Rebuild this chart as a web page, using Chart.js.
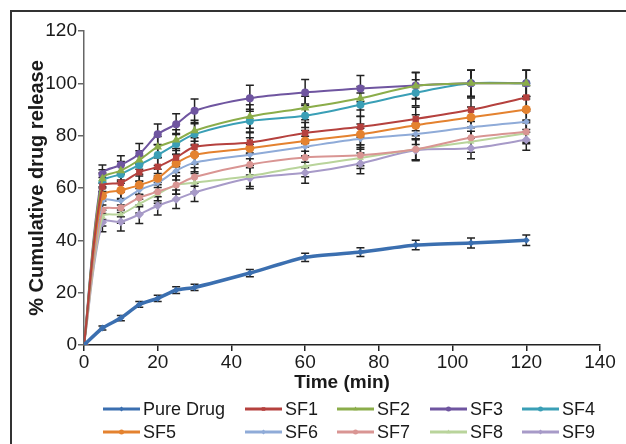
<!DOCTYPE html>
<html>
<head>
<meta charset="utf-8">
<script src="https://cdn.jsdelivr.net/npm/chart.js@4.4.0/dist/chart.umd.min.js"></script>
<style>
  html, body { margin: 0; padding: 0; background: #fff; overflow: hidden; }
  #wrap { position: relative; width: 626px; height: 444px; }
  #frame { position: absolute; left: 10px; top: 10px; width: 700px; height: 500px;
           border-top: 2px solid #333; border-left: 2px solid #333; }
  canvas { position: absolute; left: 0; top: 0; }
</style>
</head>
<body>
<div id="wrap">
  <div id="frame"></div>
  <canvas id="releaseChart" width="626" height="444"></canvas>
</div>
<script>
// time points (min)
const times = [0, 5, 10, 15, 20, 25, 30, 45, 60, 75, 90, 105, 120];

// % cumulative release per formulation
const pureDrug = [0, 6.5, 10.3, 15.5, 17.8, 21, 22, 27.5, 33.5, 35.5, 38.2, 39, 40];
const sf1 = [0, 60.5, 62, 66, 68.1, 71.6, 75.7, 77.4, 81, 83.4, 86.4, 89.9, 94.6];
const sf2 = [0, 63.5, 66.6, 70.7, 75.7, 78.3, 81.9, 87.3, 90.6, 94.3, 99, 100, 100];
const sf3 = [0, 65.3, 68.8, 73, 80.5, 84.4, 89.5, 94.3, 96.5, 98, 99.2, 100, 100];
const sf4 = [0, 62.2, 65.3, 68.8, 72.6, 76.8, 80.6, 85.6, 87.6, 91.8, 96.4, 100, 100];
const sf5 = [0, 57, 59.1, 61.1, 63.7, 69.4, 72.7, 75.2, 78, 80.5, 84, 87, 90];
const sf6 = [0, 55, 55.1, 59.2, 62, 66.6, 69.7, 72.7, 75.8, 78.8, 80.6, 83.2, 85.3];
const sf7 = [0, 51.5, 52.5, 56.3, 58.6, 61.1, 64.2, 69, 71.7, 72.5, 74.8, 79.2, 81.5];
const sf8 = [0, 49, 50, 53.9, 57.7, 61.1, 62, 64.6, 68.3, 71.5, 74.8, 77.7, 80.9];
const sf9 = [0, 46.8, 47.1, 49.9, 53.2, 55.7, 58.3, 63.7, 65.8, 69.4, 74.4, 75.2, 78.4];

// standard deviations (error bars)
const pureErr = [0, 0.8, 1, 1.1, 1.2, 1.3, 1.2, 1.4, 1.6, 1.7, 1.8, 1.9, 2];
const sf1Err = [0, 3.5, 3.5, 3.5, 3.5, 3.5, 3.5, 4, 4, 4, 4.5, 4.5, 4.5];
const sf2Err = [0, 3.5, 3.5, 3.5, 4, 4, 4, 4.5, 4.5, 4.5, 5, 5, 5];
const sf3Err = [0, 3.5, 3.5, 4, 4, 4, 4.5, 5, 5, 5, 5, 5, 5];
const sf4Err = [0, 3.5, 3.5, 3.5, 4, 4, 4, 4.5, 4.5, 4.5, 5, 5, 5];
const sf5Err = [0, 3.5, 3.5, 3.5, 3.5, 3.5, 3.5, 4, 4, 4, 4, 4, 4];
const sf6Err = [0, 3.5, 3.5, 3.5, 3.5, 3.5, 3.5, 4, 4, 4, 4, 4, 4];
const sf7Err = [0, 3.5, 3.5, 3.5, 3.5, 3.5, 3.5, 4, 4, 4, 4, 4, 4];
const sf8Err = [0, 3.5, 3.5, 3.5, 3.5, 3.5, 3.5, 4, 4, 4, 4, 4, 4];
const sf9Err = [0, 3.5, 3.5, 3.5, 3.5, 3.5, 3.5, 4, 4, 4, 4, 4, 4];

const labels = ['Pure Drug', 'SF1', 'SF2', 'SF3', 'SF4', 'SF5', 'SF6', 'SF7', 'SF8', 'SF9'];
const series = [pureDrug, sf1, sf2, sf3, sf4, sf5, sf6, sf7, sf8, sf9];
const errors = [pureErr, sf1Err, sf2Err, sf3Err, sf4Err, sf5Err, sf6Err, sf7Err, sf8Err, sf9Err];
const colors = ['#3b6fb0', '#b5413e', '#8bad4a', '#6f55a0', '#3a9fb6', '#e4822f', '#8fabd8', '#d99593', '#b9d49b', '#a79ac8'];
const markers = ['rectRot', 'rect', 'triangle', 'circle', 'circle', 'circle', 'rectRot', 'circle', 'triangle', 'rectRot'];
const markerSize = [3.5, 4.5, 5, 4, 4, 4.5, 3.5, 3.5, 4, 4.5];

const FONT = '"Liberation Sans", Arial, sans-serif';

// vertical error bars with caps, drawn under the markers
const errorBars = {
  id: 'errorBars',
  beforeDatasetsDraw(chart) {
    const ctx = chart.ctx;
    const y = chart.scales.y;
    ctx.save();
    ctx.strokeStyle = '#222';
    ctx.lineWidth = 1.5;
    chart.data.datasets.forEach((ds, i) => {
      const meta = chart.getDatasetMeta(i);
      meta.data.forEach((pt, j) => {
        const e = errors[i][j];
        if (!e) return;
        const v = series[i][j];
        const top = y.getPixelForValue(v + e);
        const bot = y.getPixelForValue(v - e);
        ctx.beginPath();
        ctx.moveTo(pt.x, top); ctx.lineTo(pt.x, bot);
        ctx.moveTo(pt.x - 4, top); ctx.lineTo(pt.x + 4, top);
        ctx.moveTo(pt.x - 4, bot); ctx.lineTo(pt.x + 4, bot);
        ctx.stroke();
      });
    });
    ctx.restore();
  }
};

// two-row legend under the x axis
const gridLegend = {
  id: 'gridLegend',
  afterDraw(chart) {
    const ctx = chart.ctx;
    const cols = [103, 245, 337, 430, 522];
    const rows = [409, 432];
    ctx.save();
    ctx.font = '18px ' + FONT;
    ctx.textBaseline = 'middle';
    chart.data.datasets.forEach((ds, i) => {
      const x = cols[i % 5];
      const yy = rows[Math.floor(i / 5)];
      ctx.strokeStyle = ds.borderColor;
      ctx.lineWidth = 3;
      ctx.beginPath();
      ctx.moveTo(x, yy); ctx.lineTo(x + 37, yy);
      ctx.stroke();
      if (Chart.helpers && Chart.helpers.drawPoint) {
        ctx.fillStyle = ds.borderColor;
        Chart.helpers.drawPoint(ctx, { pointStyle: ds.pointStyle, radius: 2.5, borderWidth: 0 }, x + 18.5, yy);
      }
      ctx.fillStyle = '#1a1a1a';
      ctx.fillText(ds.label, x + 40, yy + 1);
    });
    ctx.restore();
  }
};

const datasets = series.map((vals, i) => ({
  label: labels[i],
  data: vals.map((v, j) => ({ x: times[j], y: v })),
  borderColor: colors[i],
  backgroundColor: colors[i],
  borderWidth: i === 0 ? 3.5 : 2,
  pointStyle: markers[i],
  pointRadius: markerSize[i],
  pointBorderWidth: 0,
  tension: i === 0 ? 0.15 : 0.3,
  fill: false
}));

new Chart(document.getElementById('releaseChart'), {
  type: 'line',
  data: { datasets },
  options: {
    responsive: false,
    animation: false,
    layout: { padding: { left: 0, right: 26, top: 31, bottom: 49 } },
    plugins: { legend: { display: false }, tooltip: { enabled: false } },
    scales: {
      x: {
        type: 'linear',
        min: 0, max: 140,
        ticks: { stepSize: 20, color: '#1a1a1a', font: { family: FONT, size: 19 }, padding: 0 },
        grid: { drawOnChartArea: false, drawTicks: true, tickLength: 6, color: '#222', lineWidth: 1.5 },
        border: { color: '#222', width: 1.5 },
        title: { display: true, text: 'Time (min)', color: '#1a1a1a',
                 font: { family: FONT, size: 19, weight: 'bold' }, padding: { top: 0, bottom: 1 } },
        afterFit(scale) { scale.height = 50; }
      },
      y: {
        min: 0, max: 120,
        ticks: { stepSize: 20, color: '#1a1a1a', font: { family: FONT, size: 19 }, padding: 1 },
        grid: { drawOnChartArea: false, drawTicks: true, tickLength: 6, color: '#666', lineWidth: 1.5 },
        border: { color: '#666', width: 1.5 },
        title: { display: true, text: '% Cumulative drug release', color: '#1a1a1a',
                 font: { family: FONT, size: 20, weight: 'bold' }, padding: { top: 25, bottom: 0 } },
        afterFit(scale) { scale.width = 84; }
      }
    }
  },
  plugins: [errorBars, gridLegend]
});
</script>
</body>
</html>
